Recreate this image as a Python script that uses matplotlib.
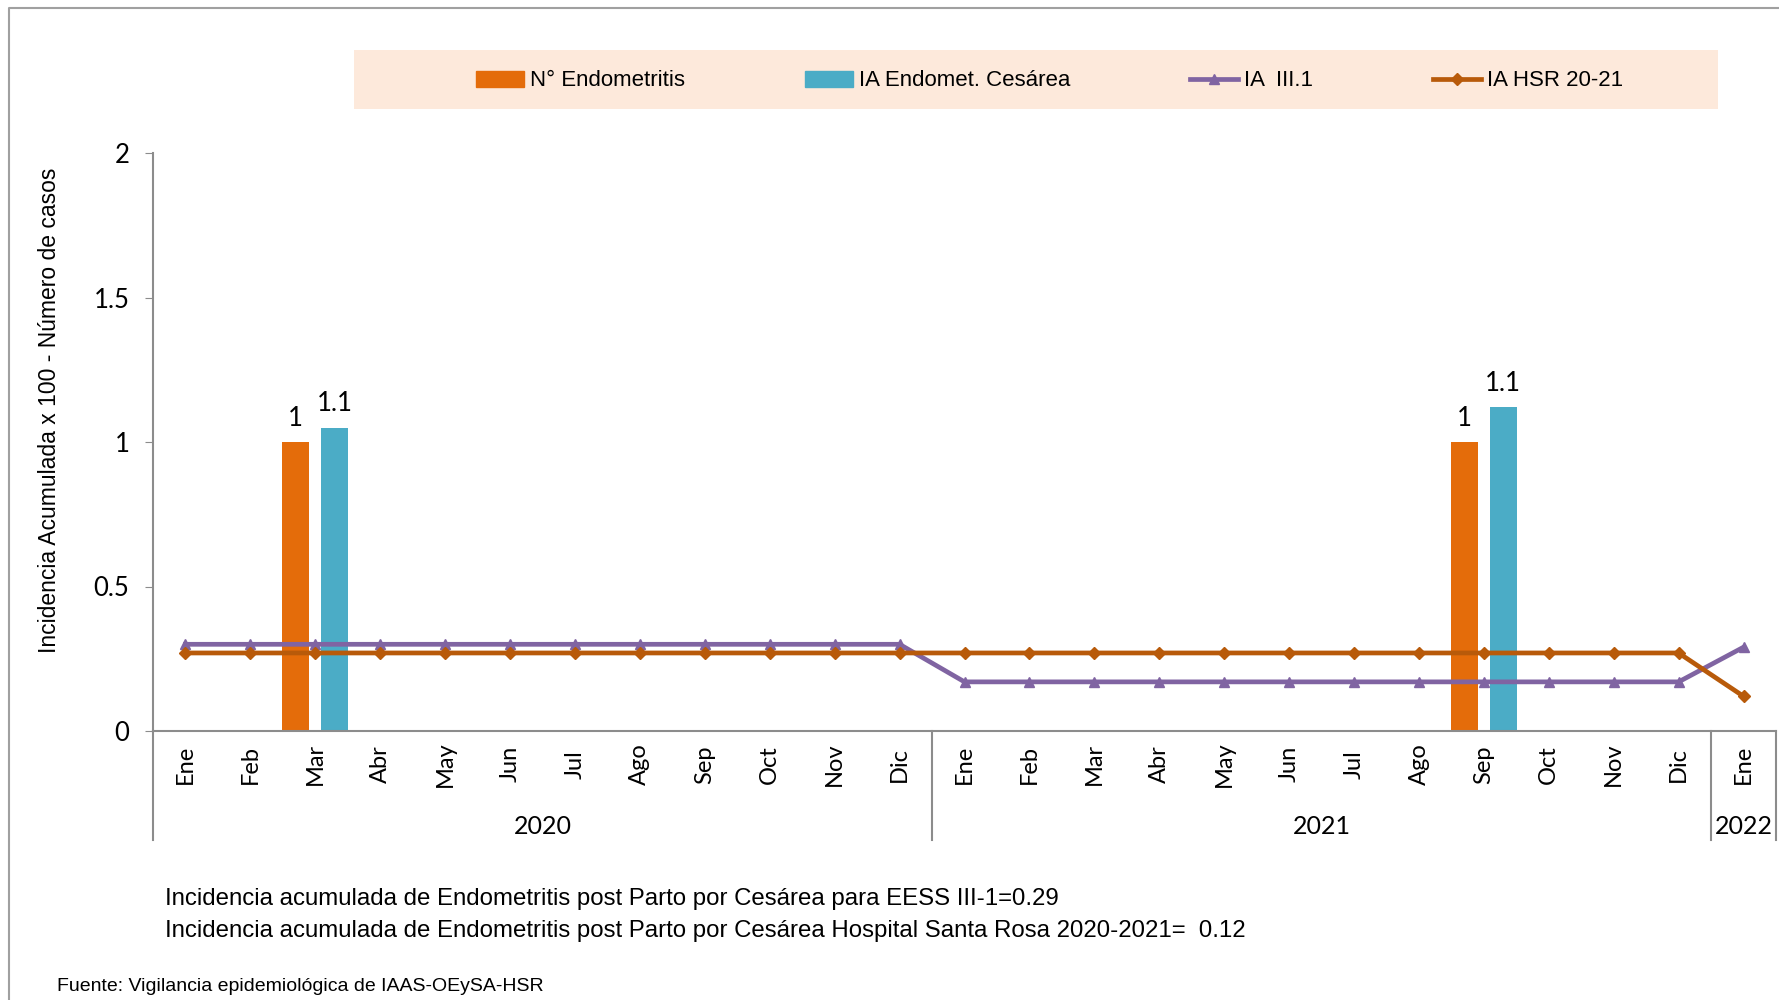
import numpy as np
import matplotlib
matplotlib.use("Agg")
import matplotlib.pyplot as plt
from matplotlib.patches import Patch, Rectangle
from matplotlib.lines import Line2D
import matplotlib.transforms as mtransforms

# data
months = ["Ene", "Feb", "Mar", "Abr", "May", "Jun", "Jul", "Ago", "Sep", "Oct", "Nov", "Dic",
          "Ene", "Feb", "Mar", "Abr", "May", "Jun", "Jul", "Ago", "Sep", "Oct", "Nov", "Dic",
          "Ene"]
years = ["2020", "2021", "2022"]
year_spans = [(0, 12), (12, 24), (24, 25)]

n_endometritis = [0, 0, 1, 0, 0, 0, 0, 0, 0, 0, 0, 0,
                  0, 0, 0, 0, 0, 0, 0, 0, 1, 0, 0, 0,
                  0]
ia_cesarea = [0, 0, 1.05, 0, 0, 0, 0, 0, 0, 0, 0, 0,
              0, 0, 0, 0, 0, 0, 0, 0, 1.12, 0, 0, 0,
              0]
ia_iii1 = [0.30] * 12 + [0.17] * 12 + [0.29]
ia_hsr = [0.27] * 24 + [0.12]

c_orange = "#E46C0A"
c_teal = "#4BACC6"
c_purple = "#8064A2"
c_brown = "#B85A0A"
c_gray = "#8C8C8C"

tick_font = ["Lato", "DejaVu Sans"]
narrow_font = ["Liberation Sans", "DejaVu Sans"]

fig = plt.figure(figsize=(17.79, 10), dpi=100)
ax = fig.add_axes([153 / 1779, 1 - 731 / 1000, (1776 - 153) / 1779, (731 - 153) / 1000])

x = np.arange(len(months))
w = 0.42
for xi, v in zip(x, n_endometritis):
    if v > 0:
        ax.bar(xi - 0.3, v, w, color=c_orange, zorder=2)
        ax.annotate(f"{v:.2g}", (xi - 0.3, v), xytext=(0, 17), textcoords="offset points",
                    ha="center", va="center", fontsize=18.5, family=tick_font)
for xi, v in zip(x, ia_cesarea):
    if v > 0:
        ax.bar(xi + 0.3, v, w, color=c_teal, zorder=2)
        ax.annotate(f"{v:.2g}", (xi + 0.3, v), xytext=(0, 17), textcoords="offset points",
                    ha="center", va="center", fontsize=18.5, family=tick_font)

ax.plot(x, ia_iii1, color=c_purple, lw=3.4, marker="^", ms=6.5, zorder=3)
ax.plot(x, ia_hsr, color=c_brown, lw=3.4, marker="D", ms=6.5, zorder=4)

ax.set_xlim(-0.5, len(months) - 0.5)
ax.set_ylim(0, 2)
ax.set_yticks([0, 0.5, 1, 1.5, 2])
ax.set_yticklabels(["0", "0.5", "1", "1.5", "2"], family=tick_font, fontsize=18.5)
ax.set_xticks(x)
ax.set_xticklabels(months, rotation=90, va="center", family=tick_font, fontsize=17)
ax.tick_params(axis="x", length=0, pad=24)
ax.tick_params(axis="y", length=6, color=c_gray, pad=11)

for s in ["top", "right"]:
    ax.spines[s].set_visible(False)
for s in ["left", "bottom"]:
    ax.spines[s].set_color(c_gray)
    ax.spines[s].set_linewidth(1.5)

# multi-level category separators
trans = mtransforms.blended_transform_factory(ax.transData, ax.transAxes)
y_low = -(840 - 731) / 578
for b in [-0.5, 11.5, 23.5, 24.5]:
    ax.plot([b, b], [0, y_low], transform=trans, color=c_gray, lw=1.5, clip_on=False)
for yr, (a, b) in zip(years, year_spans):
    ax.text((a + b - 1) / 2, -(827 - 731) / 578, yr, transform=trans, ha="center", va="center",
            fontsize=18, family=tick_font)

ax.set_ylabel("Incidencia Acumulada x 100 - Número de casos", family=narrow_font, fontsize=16.5)
ax.yaxis.set_label_coords((61 - 153) / 1623, 0.554)

# legend
fig.add_artist(Rectangle((354 / 1779, 1 - 109 / 1000), (1718 - 354) / 1779, 59 / 1000,
                         transform=fig.transFigure, facecolor="#FDE9DB", edgecolor="none", zorder=0))
handles = [Patch(color=c_orange), Patch(color=c_teal),
           Line2D([], [], color=c_purple, lw=3.4, marker="^", ms=6.5),
           Line2D([], [], color=c_brown, lw=3.4, marker="D", ms=6.5)]
labels = ["N° Endometritis", "IA Endomet. Cesárea", "IA  III.1", "IA HSR 20-21"]
fig.legend(handles, labels, loc="center left", bbox_to_anchor=(465 / 1779, 1 - 81 / 1000),
           ncol=4, frameon=False, borderpad=0, handlelength=2.16, handletextpad=0.27,
           columnspacing=5.4, prop={"family": narrow_font, "size": 16})

# notes
fig.text(165 / 1779, 1 - 899.5 / 1000,
         "Incidencia acumulada de Endometritis post Parto por Cesárea para EESS III-1=0.29",
         family=narrow_font, fontsize=17.3, va="center")
fig.text(165 / 1779, 1 - 931.5 / 1000,
         "Incidencia acumulada de Endometritis post Parto por Cesárea Hospital Santa Rosa 2020-2021=  0.12",
         family=narrow_font, fontsize=17.3, va="center")
fig.text(57 / 1779, 1 - 986.5 / 1000, "Fuente: Vigilancia epidemiológica de IAAS-OEySA-HSR",
         family=narrow_font, fontsize=14, va="center")

# chart border
fig.add_artist(Line2D([9 / 1779, 9 / 1779, 1], [0, 1 - 8 / 1000, 1 - 8 / 1000],
                      transform=fig.transFigure, color="#A0A0A0", lw=1.5))

fig.savefig("out.png", dpi=100)
